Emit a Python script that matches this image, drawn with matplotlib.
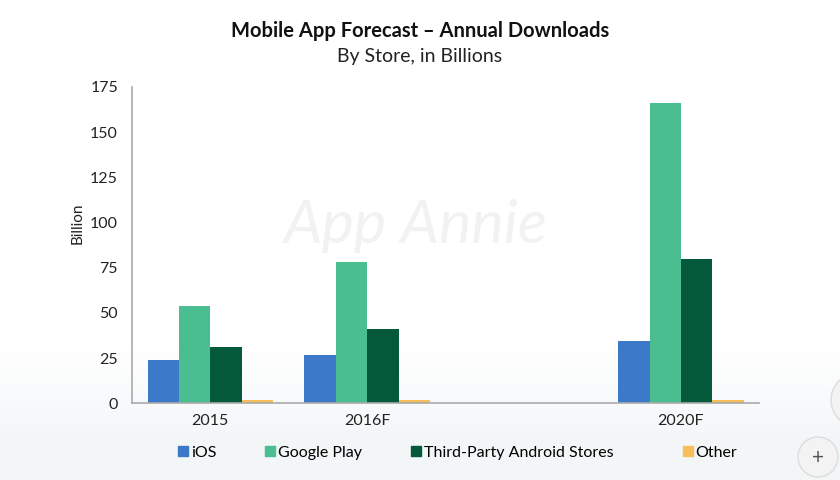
import matplotlib
matplotlib.use("Agg")
import matplotlib.pyplot as plt
import numpy as np
from matplotlib.lines import Line2D
from matplotlib.patches import Circle

plt.rcParams['font.family'] = ['Lato', 'DejaVu Sans']

categories = ["2015", "2016F", "2020F"]
cat_slots = [0, 1, 3]
series_names = ["iOS", "Google Play", "Third-Party Android Stores", "Other"]
ios = [24, 26.5, 34.5]
google_play = [54, 78, 166]
third_party = [31, 41, 80]
other = [2, 2, 2]
series_values = [ios, google_play, third_party, other]
colors = ["#3D79C9", "#4ABE90", "#03593A", "#F8BE5C"]
yticks = [0, 25, 50, 75, 100, 125, 150, 175]

W, H = 840, 480
fig = plt.figure(figsize=(8.4, 4.8), dpi=100)

# background with faint bottom gradient (pixel coordinates)
bg = fig.add_axes([0, 0, 1, 1], zorder=-10)
grad = np.linspace(0, 1, H)[:, None]
grad = np.clip((grad - 0.72) / 0.2, 0, 1)
top = np.array([1.0, 1.0, 1.0])
bot = np.array([0.955, 0.965, 0.972])
img = top[None, None, :] * (1 - grad[:, :, None]) + bot[None, None, :] * grad[:, :, None]
img = np.repeat(img, 10, axis=1)
bg.imshow(img, aspect='auto', extent=[0, W, 0, H], origin='upper')
bg.set_xlim(0, W); bg.set_ylim(0, H)
bg.axis('off')
# UI buttons from screenshot
bg.add_patch(Circle((858, H - 400), 27, facecolor="#f3f3f3", edgecolor="#dcdcdc", lw=1))
bg.add_patch(Circle((818, H - 457), 20, facecolor="#f3f3f3", edgecolor="#dcdcdc", lw=1))
bg.text(818, H - 458, "+", ha='center', va='center', fontsize=15, color="#555555")

ax = fig.add_axes([0.157, 0.160, 0.747, 0.659])
ax.patch.set_alpha(0)

width = 0.2
x = np.array(cat_slots, dtype=float)
for i, (name, vals, c) in enumerate(zip(series_names, series_values, colors)):
    ax.bar(x + (i - 1.5) * width, vals, width=width, color=c, label=name, zorder=2)

ax.set_xlim(-0.5, 3.5)
ax.set_ylim(0, 175)
ax.set_yticks(yticks)
ax.set_yticklabels([str(t) for t in yticks], fontsize=11.5, color="#222222")
ax.set_xticks(x)
ax.set_xticklabels(categories, fontsize=11.5, color="#222222")
ax.tick_params(axis='both', length=0)
ax.tick_params(axis='y', pad=10)
ax.tick_params(axis='x', pad=8)
for s in ["top", "right"]:
    ax.spines[s].set_visible(False)
for s in ["left", "bottom"]:
    ax.spines[s].set_color("#aaaaaa")
    ax.spines[s].set_linewidth(1.2)
ax.set_ylabel("Billion", fontsize=11, color="#222222")
ax.yaxis.set_label_coords(-0.076, 0.57)

# watermark
ax.text(0.452, 0.56, "App Annie", transform=ax.transAxes, ha='center', va='center',
        fontsize=44, fontstyle='italic', color="#f1f3f2", zorder=1)

fig.text(0.5, 0.935, "Mobile App Forecast \u2013 Annual Downloads", ha='center', va='center',
         fontsize=14.5, fontweight='bold', color="#111111")
fig.text(0.5, 0.883, "By Store, in Billions", ha='center', va='center',
         fontsize=14, color="#222222")

# legend entries
leg_x = [0.210, 0.314, 0.488, 0.811]
for name, c, lx in zip(series_names, colors, leg_x):
    h = Line2D([], [], marker='s', linestyle='none', markersize=7, color=c)
    fig.legend(handles=[h], labels=[name], loc='center left', bbox_to_anchor=(lx, 0.057),
               frameon=False, fontsize=11.5, handletextpad=0.1, handlelength=0.8,
               borderaxespad=0, borderpad=0)

fig.savefig("out.png", dpi=100)
